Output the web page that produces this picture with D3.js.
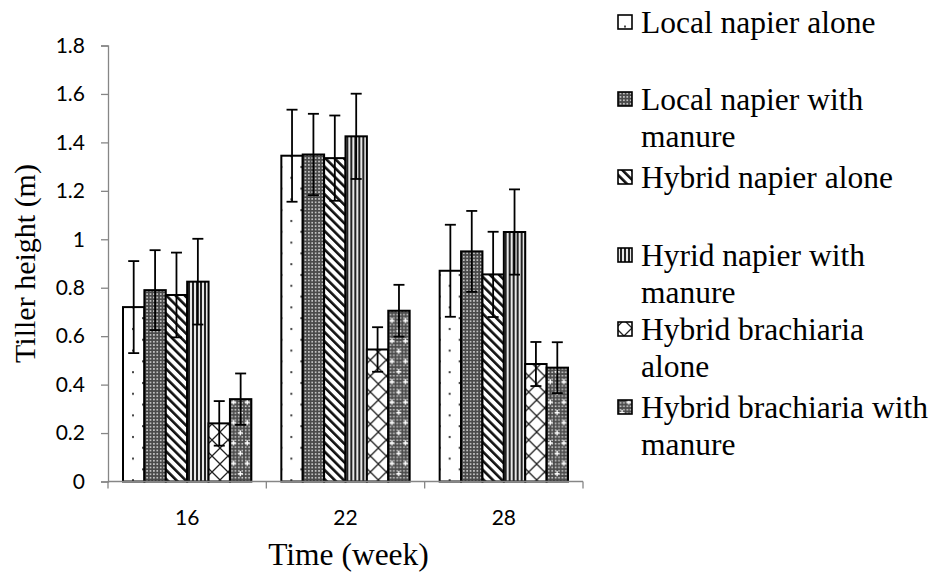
<!DOCTYPE html>
<html><head><meta charset="utf-8">
<script src="https://cdn.jsdelivr.net/npm/d3@7"></script>
<style>body{margin:0;background:#fff}svg{display:block}</style>
</head><body>
<svg id="chart" width="935" height="573"></svg>
<script>
const weeks = ["16", "22", "28"];
const seriesNames = ["Local napier alone", "Local napier with manure", "Hybrid napier alone",
  "Hyrid napier with manure", "Hybrid brachiaria alone", "Hybrid brachiaria with manure"];
const legendLines = [["Local napier alone"], ["Local napier with", "manure"], ["Hybrid napier alone"],
  ["Hyrid napier with", "manure"], ["Hybrid brachiaria", "alone"], ["Hybrid brachiaria with", "manure"]];
const localAlone = [0.72, 1.345, 0.87];
const localManure = [0.79, 1.35, 0.95];
const hybridAlone = [0.77, 1.335, 0.855];
const hybridManure = [0.825, 1.425, 1.03];
const brachAlone = [0.24, 0.545, 0.485];
const brachManure = [0.34, 0.705, 0.47];
const errLocalAlone = [0.19, 0.19, 0.19];
const errLocalManure = [0.165, 0.168, 0.167];
const errHybridAlone = [0.175, 0.176, 0.176];
const errHybridManure = [0.177, 0.176, 0.176];
const errBrachAlone = [0.092, 0.092, 0.091];
const errBrachManure = [0.106, 0.107, 0.105];
const yTicks = [0, 0.2, 0.4, 0.6, 0.8, 1, 1.2, 1.4, 1.6, 1.8];
const yTickLabels = ["0", "0.2", "0.4", "0.6", "0.8", "1", "1.2", "1.4", "1.6", "1.8"];

const values = [localAlone, localManure, hybridAlone, hybridManure, brachAlone, brachManure];
const errors = [errLocalAlone, errLocalManure, errHybridAlone, errHybridManure, errBrachAlone, errBrachManure];

const svg = d3.select("#chart");
const defs = svg.append("defs");

function pat(id, w, h) {
  return defs.append("pattern").attr("id", id).attr("patternUnits", "userSpaceOnUse")
    .attr("width", w).attr("height", h);
}
// 1 sparse dots
let p = pat("p0", 20, 21.6);
p.append("rect").attr("width", 20).attr("height", 21.6).attr("fill", "#fff");
p.append("rect").attr("x", 4).attr("y", 4).attr("width", 2).attr("height", 2).attr("fill", "#444");
p.append("rect").attr("x", 14).attr("y", 14.8).attr("width", 2).attr("height", 2).attr("fill", "#444");
// 2 dark dotted grid
p = pat("p1", 3.4, 3.4);
p.append("rect").attr("width", 3.4).attr("height", 3.4).attr("fill", "#4a4a4a");
p.append("rect").attr("x", 0.9).attr("y", 0.9).attr("width", 1.6).attr("height", 1.6).attr("fill", "#d0d0d0");
// 3 wide downward diagonal "\\"
p = pat("p2", 6.5, 6.5).attr("patternTransform", "rotate(-45)");
p.append("rect").attr("width", 6.5).attr("height", 6.5).attr("fill", "#fff");
p.append("rect").attr("x", 0).attr("y", 0).attr("width", 2.6).attr("height", 6.5).attr("fill", "#111");
// 4 vertical stripes
p = pat("p3", 4, 4);
p.append("rect").attr("width", 4).attr("height", 4).attr("fill", "#e8e8e8");
p.append("rect").attr("x", 0).attr("width", 2).attr("height", 4).attr("fill", "#222");
// 5 large diamond grid
p = pat("p4", 16, 16);
p.append("rect").attr("width", 16).attr("height", 16).attr("fill", "#fff");
p.append("path").attr("d", "M0,0L16,16M16,0L0,16M-8,8L8,24M8,-8L24,8M-8,8L8,-8M8,24L24,8")
  .attr("stroke", "#222").attr("stroke-width", 1.3);
// 6 dark dotted with white crosses
p = pat("p5", 13.6, 20.4);
p.append("rect").attr("width", 13.6).attr("height", 20.4).attr("fill", "#4a4a4a");
for (let i = 0; i < 4; i++) for (let j = 0; j < 6; j++)
  p.append("rect").attr("x", i * 3.4 + 0.9).attr("y", j * 3.4 + 0.9).attr("width", 1.6).attr("height", 1.6).attr("fill", "#d0d0d0");
p.append("path").attr("d", "M10,2V7M7.5,4.5H12.5").attr("stroke", "#fff").attr("stroke-width", 1.4);
p.append("path").attr("d", "M3.2,12V17M0.7,14.5H5.7").attr("stroke", "#fff").attr("stroke-width", 1.4);

const fills = ["url(#p0)", "url(#p1)", "url(#p2)", "url(#p3)", "url(#p4)", "url(#p5)"];

const plotLeft = 108, plotRight = 583, plotTop = 45.5, plotBottom = 481.5;
const y = d3.scaleLinear().domain([0, 1.8]).range([plotBottom, plotTop]);
const x0 = d3.scaleBand().domain(weeks).range([plotLeft, plotRight]).padding(0);
const gap = 15;
const x1 = d3.scaleBand().domain(seriesNames).range([gap, x0.bandwidth() - gap]).padding(0);

const axisColor = "#868686";
const yAxis = svg.append("g").attr("transform", `translate(${plotLeft},0)`)
  .call(d3.axisLeft(y).tickValues(yTicks).tickFormat((d, i) => yTickLabels[i]).tickSizeOuter(0).tickSize(7).tickPadding(16));
yAxis.select(".domain").attr("stroke", axisColor).attr("stroke-width", 1.3);
yAxis.selectAll(".tick line").attr("stroke", axisColor).attr("stroke-width", 1.3);
yAxis.selectAll(".tick text").attr("font-family", "Lato, 'Open Sans', sans-serif").attr("font-size", 21).attr("fill", "#000");

const groups = svg.append("g").selectAll("g").data(weeks).join("g")
  .attr("transform", d => `translate(${x0(d)},0)`);
groups.selectAll("rect").data((w, wi) => seriesNames.map((s, si) => ({ s, si, v: values[si][wi] })))
  .join("rect")
  .attr("x", d => x1(d.s)).attr("width", x1.bandwidth())
  .attr("y", d => y(d.v)).attr("height", d => y(0) - y(d.v))
  .attr("fill", d => fills[d.si]).attr("stroke", "#000").attr("stroke-width", 2);

const eb = groups.selectAll("g.err").data((w, wi) => seriesNames.map((s, si) => ({ s, si, v: values[si][wi], e: errors[si][wi] })))
  .join("g").attr("class", "err");
const cx = d => x1(d.s) + x1.bandwidth() / 2;
eb.append("line").attr("x1", cx).attr("x2", cx)
  .attr("y1", d => y(d.v + d.e)).attr("y2", d => y(d.v - d.e)).attr("stroke", "#000").attr("stroke-width", 1.8);
eb.append("line").attr("x1", d => cx(d) - 5.5).attr("x2", d => cx(d) + 5.5)
  .attr("y1", d => y(d.v + d.e)).attr("y2", d => y(d.v + d.e)).attr("stroke", "#000").attr("stroke-width", 1.8);
eb.append("line").attr("x1", d => cx(d) - 5.5).attr("x2", d => cx(d) + 5.5)
  .attr("y1", d => y(d.v - d.e)).attr("y2", d => y(d.v - d.e)).attr("stroke", "#000").attr("stroke-width", 1.8);

const xAxisG = svg.append("g").attr("transform", `translate(0,${plotBottom})`);
xAxisG.append("line").attr("x1", plotLeft).attr("x2", plotRight).attr("stroke", axisColor).attr("stroke-width", 1.3);
const boundaries = weeks.map(w => x0(w)).concat([x0(weeks[weeks.length - 1]) + x0.bandwidth()]);
xAxisG.selectAll("line.tk").data(boundaries).join("line").attr("class", "tk")
  .attr("x1", d => d).attr("x2", d => d).attr("y1", 0).attr("y2", 7).attr("stroke", axisColor).attr("stroke-width", 1.3);
xAxisG.selectAll("text").data(weeks).join("text")
  .attr("x", d => x0(d) + x0.bandwidth() / 2).attr("y", 43).attr("text-anchor", "middle")
  .attr("font-family", "Lato, 'Open Sans', sans-serif").attr("font-size", 21).text(d => d);

const serif = "'Liberation Serif', 'Times New Roman', serif";
svg.append("text").attr("x", (plotLeft + plotRight) / 2 + 3).attr("y", 565).attr("text-anchor", "middle")
  .attr("font-family", serif).attr("font-size", 31.5).text("Time (week)");
svg.append("text").attr("transform", `translate(35,${(plotTop + plotBottom) / 2}) rotate(-90)`).attr("text-anchor", "middle")
  .attr("font-family", serif).attr("font-size", 30).text("Tiller height (m)");

const legendBase = [33, 110, 188, 266, 340, 418];
const leg = svg.append("g").selectAll("g").data(seriesNames).join("g");
leg.append("rect").attr("x", 618).attr("y", (d, i) => legendBase[i] - 18).attr("width", 14).attr("height", 14)
  .attr("fill", (d, i) => fills[i]).attr("stroke", "#000").attr("stroke-width", 1.6);
leg.append("text").attr("font-family", serif).attr("font-size", 31.5)
  .selectAll("tspan").data((d, i) => legendLines[i].map((l, k) => ({ l, k, i })))
  .join("tspan").attr("x", 641).attr("y", d => legendBase[d.i] + d.k * 37).text(d => d.l);
</script>
</body></html>
